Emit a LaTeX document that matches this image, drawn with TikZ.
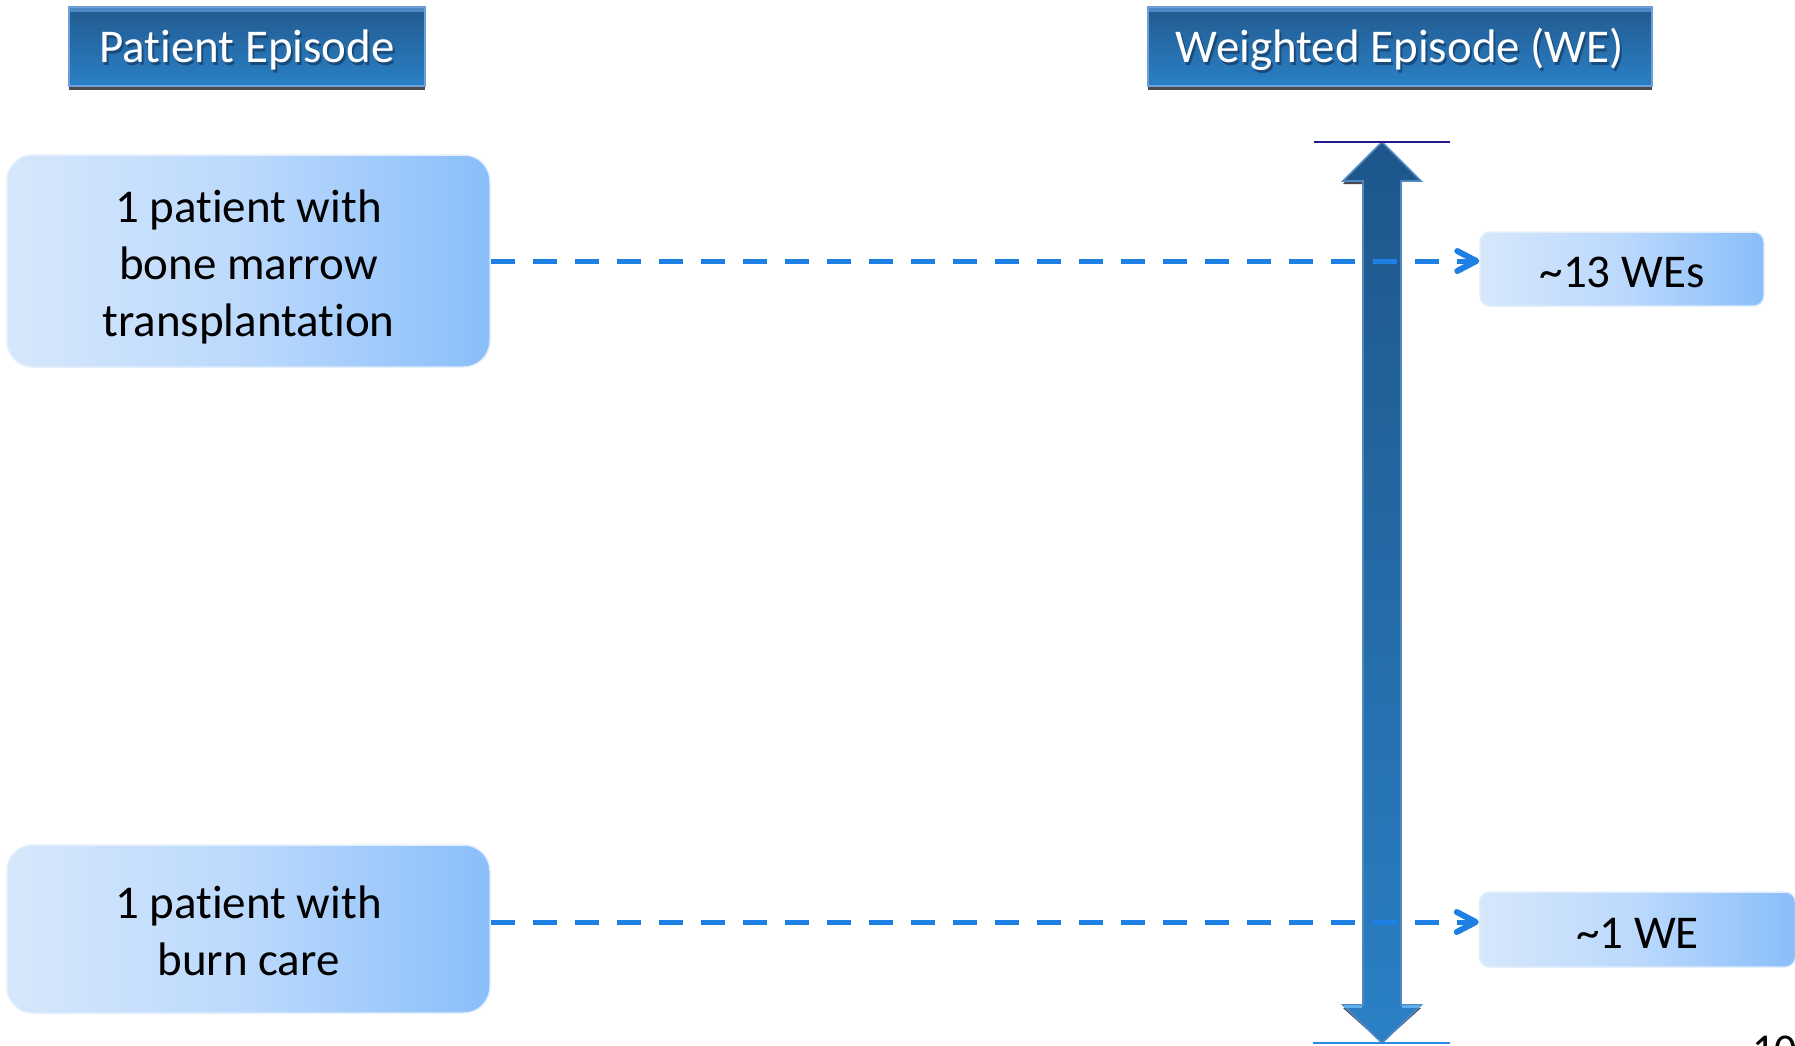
\documentclass[tikz,border=0pt]{standalone}
\usepackage{fontspec}
\setmainfont{Carlito}[Ligatures={NoCommon,NoRequired,NoContextual}]
\usetikzlibrary{arrows.meta,calc,shadows}

\definecolor{hdrtop}{HTML}{225A8F}
\definecolor{hdrbot}{HTML}{2A80C6}
\definecolor{hdrrim}{HTML}{6E9FD6}
\definecolor{hdrstrip}{HTML}{4C89C5}
\definecolor{hdrshadow}{HTML}{4A4A50}
\definecolor{txtshadow}{HTML}{1A4A7A}
\definecolor{boxleft}{HTML}{D6E7FB}
\definecolor{boxmid}{HTML}{BBD9FC}
\definecolor{boxright}{HTML}{89BEFA}
\definecolor{dashblue}{HTML}{1E80E2}
\definecolor{arrtop}{HTML}{1E568A}
\definecolor{arrbot}{HTML}{2B80C5}
\definecolor{arrrim}{HTML}{5088C2}
\definecolor{arrlight}{HTML}{5CAFEA}
\definecolor{navyline}{HTML}{221A8A}
\definecolor{skyline}{HTML}{2E8BE2}

\tikzset{
  header/.style={rectangle, inner sep=0pt,
    top color=hdrtop, bottom color=hdrbot,
    draw=hdrrim, line width=1.2pt,
    drop shadow={shadow xshift=0pt, shadow yshift=-3.5pt, fill=hdrshadow, opacity=1},
    path picture={\fill[hdrstrip] (path picture bounding box.north west)
      rectangle ([yshift=-5pt]path picture bounding box.north east);}},
  hdrtext/.style={anchor=base, text=white, inner sep=0pt,
    font=\fontsize{47}{57}\selectfont},
  hdrshade/.style={hdrtext, text=txtshadow},
  epbox/.style={rectangle, rounded corners=26pt, inner sep=0pt,
    left color=boxleft, right color=boxright, middle color=boxmid,
    draw=boxleft!70!white, line width=1.5pt,
    align=center, font=\fontsize{47}{57}\selectfont},
  webox/.style={epbox, rounded corners=10pt},
  dashline/.style={draw=dashblue, line width=5pt, dash pattern=on 24pt off 18pt},
  chevron/.style={draw=dashblue, line width=6pt, line cap=round, line join=round},
}

\begin{document}
\begin{tikzpicture}[x=1pt, y=-1pt]
\useasboundingbox (0,0) rectangle (1795,1045);

% column headers
\node[header, minimum width=356pt, minimum height=79pt] (h1) at (247,46.5) {};
\node[hdrshade] (h1s) at ([xshift=2pt, yshift=-18.5pt]h1.center) {Patient Episode};
\node[hdrtext] (h1t) at ([yshift=-15.5pt]h1.center) {Patient Episode};

\node[header, minimum width=504pt, minimum height=79pt] (h2) at (1400,46.5) {};
\node[hdrshade] (h2s) at ([xshift=2pt, yshift=-18.5pt]h2.center) {Weighted Episode (WE)};
\node[hdrtext] (h2t) at ([yshift=-15.5pt]h2.center) {Weighted Episode (WE)};

% patient episodes
\node[epbox, minimum width=483pt, minimum height=212pt] (b1) at (248.5,261)
  {\rule{0pt}{45pt}1 patient with\\ bone marrow\\ transplantation};
\node[epbox, minimum width=483pt, minimum height=168pt] (b2) at (248.5,929)
  {\rule{0pt}{37pt}1 patient with\\ burn care};

% weighted episodes
\node[webox, minimum width=284pt, minimum height=74pt] (w1) at (1622,269)
  {\rule{0pt}{37pt}\textasciitilde 13 WEs};
\node[webox, minimum width=316pt, minimum height=75pt] (w2) at (1637.5,929.5)
  {\rule{0pt}{37pt}\textasciitilde 1 WE};

% weight scale: double-headed arrow
\coordinate (vtop) at (1382,142);
\coordinate (vbot) at (1382,1043);
\fill[hdrshadow, yshift=-3pt]
  (vtop) -- ++(39,39) -- ++(-20,0) -- (1401,1005) -- ++(20,0) -- (vbot)
  -- (1343,1005) -- ++(20,0) -- (1363,181) -- ++(-20,0) -- cycle;
\path[top color=arrtop, bottom color=arrbot, draw=arrrim, line width=1.6pt, line join=miter]
  (vtop) -- ++(39,39) -- ++(-20,0) -- (1401,1005) -- ++(20,0) -- (vbot)
  -- (1343,1005) -- ++(20,0) -- (1363,181) -- ++(-20,0) -- cycle;
\draw[arrlight, line width=3pt] (1344,1006.5) -- (1362,1006.5) (1402,1006.5) -- (1420,1006.5);
\draw[navyline, line width=2.5pt] ([xshift=-68pt]vtop) -- ([xshift=68pt]vtop);
\draw[skyline, line width=2pt] ([xshift=-69pt]vbot) -- ([xshift=68pt]vbot);

% mapping from episode to weight: dashed line ending in a bold chevron
\coordinate (t1) at ([xshift=-3pt]b1.east -| w1.west);
\coordinate (t2) at ([yshift=7pt, xshift=-3pt]b2.east -| w2.west);
\draw[dashline] (b1.east) -- ([xshift=-4pt]t1);
\draw[chevron] ([xshift=-19pt, yshift=10pt]t1) -- (t1) -- ([xshift=-19pt, yshift=-10pt]t1);
\draw[dashline] ([yshift=7pt]b2.east) -- ([xshift=-4pt]t2);
\draw[chevron] ([xshift=-19pt, yshift=10pt]t2) -- (t2) -- ([xshift=-19pt, yshift=-10pt]t2);

% page number
\node[anchor=base west, inner sep=0pt, font=\fontsize{44}{50}\selectfont] (pg) at (1752,1064) {10};
\end{tikzpicture}
\end{document}
